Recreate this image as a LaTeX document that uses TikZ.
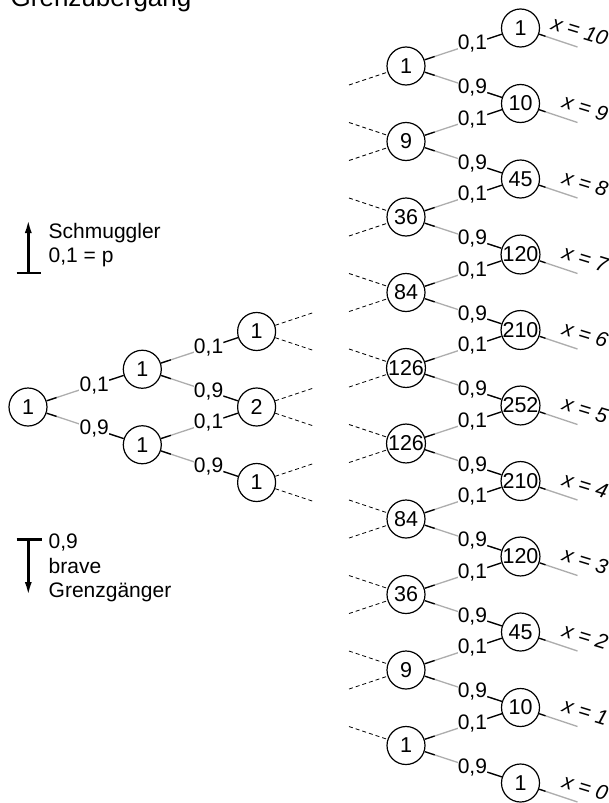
\documentclass[tikz,border=0pt]{standalone}
\usepackage{fontspec}
\setmainfont{Liberation Sans}
\usetikzlibrary{calc,arrows.meta}

\tikzset{
  state/.style={circle, draw, line width=1.2pt, fill=white, minimum size=38pt,
                inner sep=0pt, font=\fontsize{21.5}{25}\selectfont},
  probtext/.style={font=\fontsize{21}{25}\selectfont, fill=white, inner sep=0.3pt},
  faded/.style={draw=black!32, line width=1.3pt},
  solidpart/.style={draw=black, line width=1.3pt},
  stub/.style={draw=black, line width=0.8pt, dash pattern=on 4pt off 3pt},
  xlabel/.style={font=\fontsize{21}{25}\selectfont\itshape, rotate=-17,
                 anchor=base east, inner sep=0pt},
  legend/.style={font=\fontsize{21}{25}\selectfont, anchor=base west, inner sep=0pt},
  legendline/.style={line width=2.6pt},
}

% branch with probability label: dark near both nodes, pale in between
\newcommand\probedge[3]{%
  \draw[faded] (#1) -- (#2);
  \draw[solidpart] (#1) -- ($(#1)!0.25!(#2)$);
  \draw[solidpart] ($(#1)!0.71!(#2)$) -- (#2);
  \node[probtext] at ($(#1)!0.58!(#2)$) {#3};
}

\begin{document}
\begin{tikzpicture}[x=1pt, y=-1pt]
\useasboundingbox (0,0) rectangle (609,803);

% heading
\node[font=\fontsize{26}{30}\selectfont, anchor=base west, inner sep=0pt]
  (title) at (10.5,6) {Grenzübergang};

% legend: smugglers go up
\draw[legendline, -{Latex[length=14pt,width=7pt]}] (28.3,273) -- (28.3,219);
\draw[legendline] (16.5,273) -- (40.5,273);
\node[legend] (lg1) at (48.5,238) {Schmuggler};
\node[legend] (lg2) at (48.5,262) {0,1 = p};

% legend: honest travellers go down
\draw[legendline] (16.5,539.3) -- (41.5,539.3);
\draw[legendline, -{Latex[length=14pt,width=7pt]}] (28.3,539.3) -- (28.3,596);
\node[legend] (lg3) at (48.5,548.3) {0,9};
\node[legend] (lg4) at (48.5,573) {brave};
\node[legend] (lg5) at (48.5,597.3) {Grenzgänger};

% first two stages
\node[state] (r)  at (28,407)      {1};
\node[state] (a1) at (142.3,369.25) {1};
\node[state] (a2) at (142.3,444.75) {1};
\node[state] (b1) at (256.6,331.5) {1};
\node[state] (b2) at (256.6,407)   {2};
\node[state] (b3) at (256.6,482.5) {1};

\probedge{r}{a1}{0,1}
\probedge{r}{a2}{0,9}
\probedge{a1}{b1}{0,1}
\probedge{a1}{b2}{0,9}
\probedge{a2}{b2}{0,1}
\probedge{a2}{b3}{0,9}

\foreach \i in {1,2,3} {
  \draw[stub] (b\i) -- ($(b\i)+(57,-19)$);
  \draw[stub] (b\i) -- ($(b\i)+(57,19)$);
}

% last two stages (9 and 10 crossings)
\foreach \i/\v in {0/1,1/9,2/36,3/84,4/126,5/126,6/84,7/36,8/9,9/1}
  \node[state] (c\i) at (406,{66+75.5*\i}) {\v};
\foreach \j/\v in {0/1,1/10,2/45,3/120,4/210,5/252,6/210,7/120,8/45,9/10,10/1}
  \node[state] (d\j) at (520.5,{28+75.5*\j}) {\v};

\foreach \i in {0,...,9} {
  \pgfmathtruncatemacro\k{\i+1}
  \probedge{c\i}{d\i}{0,1}
  \probedge{c\i}{d\k}{0,9}
}

\foreach \i in {0,...,8}
  \draw[stub] ($(c\i)+(-57,19)$) -- (c\i);
\foreach \i in {1,...,9}
  \draw[stub] ($(c\i)+(-57,-19)$) -- (c\i);

% number of smugglers x at the end of each path
\foreach \j in {0,...,10} {
  \pgfmathtruncatemacro\xv{10-\j}
  \draw[faded] (d\j) -- ($(d\j)+(57,19)$);
  \draw[solidpart] (d\j) -- ($(d\j)+(25,8.3)$);
  \node[xlabel] (x\j) at ($(d\j)+(85,18)$) {x = \xv};
}
\end{tikzpicture}
\end{document}
